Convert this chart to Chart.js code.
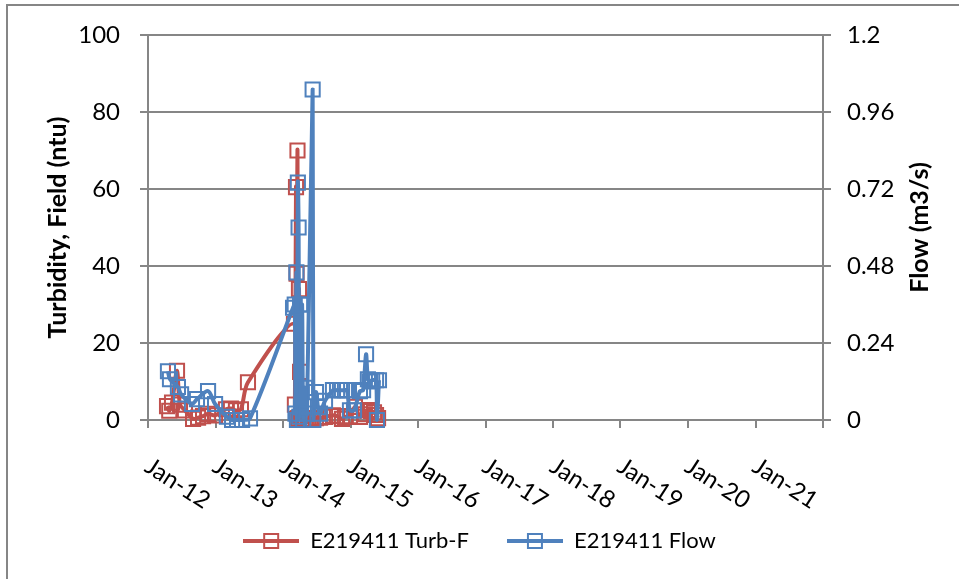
<!DOCTYPE html>
<html>
<head>
<meta charset="utf-8">
<script src="https://cdn.jsdelivr.net/npm/chart.js@4/dist/chart.umd.min.js"></script>
<style>
  html, body { margin: 0; padding: 0; background: #fff; }
  #contenedor { position: relative; width: 959px; height: 579px; }
</style>
</head>
<body>
<div id="contenedor"><canvas id="grafica" width="959" height="579"></canvas></div>
<script>
// Turbidez de campo (ntu) - eje izquierdo
const fechasTurb = [
    '2012-04-13', '2012-04-25', '2012-05-10', '2012-06-06', '2012-06-22', '2012-07-19',
    '2012-09-01', '2012-09-28', '2012-10-25', '2012-11-21', '2012-12-29', '2013-02-26',
    '2013-03-25', '2013-04-21', '2013-05-18', '2013-06-25', '2014-03-01', '2014-03-06',
    '2014-03-12', '2014-03-15', '2014-03-20', '2014-03-24', '2014-03-28', '2014-04-03',
    '2014-04-08', '2014-04-13', '2014-04-30', '2014-05-16', '2014-05-27', '2014-06-12',
    '2014-06-28', '2014-07-20', '2014-08-16', '2014-09-28', '2014-10-20', '2014-11-16',
    '2014-12-02', '2014-12-29', '2015-01-25', '2015-02-21', '2015-03-20', '2015-04-05',
    '2015-04-22', '2015-05-08', '2015-05-19', '2015-05-30'
];
const valoresTurb = [
    3.6, 2.4, 4.5, 12.8, 4.0, 2.5,
    0.3, 0.6, 1.0, 1.6, 1.2, 2.8,
    3.0, 2.5, 2.8, 9.8, 25, 4,
    60.5, 38, 70, 0.5, 34, 12.5,
    1.0, 0.3, 0.2, 0.1, 0.3, 0.2,
    0.5, 0.6, 0.8, 1.2, 1.0, 0.3,
    0.8, 1.0, 3.4, 0.8, 1.5, 2.6,
    2.3, 2.0, 1.3, 0.5
];

// Caudal (m3/s) - eje derecho
const fechasFlujo = [
    '2012-04-18', '2012-04-29', '2012-06-11', '2012-06-28', '2012-08-26', '2012-09-22',
    '2012-11-21', '2012-12-29', '2013-03-03', '2013-03-31', '2013-04-27', '2013-05-24',
    '2013-07-06', '2014-02-24', '2014-03-05', '2014-03-09', '2014-03-14', '2014-03-17',
    '2014-03-22', '2014-03-26', '2014-03-30', '2014-04-03', '2014-04-08', '2014-04-14',
    '2014-04-20', '2014-04-30', '2014-05-10', '2014-06-10', '2014-06-14', '2014-06-28',
    '2014-07-09', '2014-07-20', '2014-08-16', '2014-09-28', '2014-10-20', '2014-11-05',
    '2014-11-16', '2014-12-02', '2014-12-13', '2014-12-29', '2015-01-20', '2015-02-21',
    '2015-03-10', '2015-03-26', '2015-04-05', '2015-04-16', '2015-04-28', '2015-05-19',
    '2015-05-24', '2015-06-04'
];
const valoresFlujo = [
    0.152, 0.127, 0.103, 0.08, 0.05, 0.065,
    0.09, 0.05, 0.01, 0.0, 0.0, 0.0,
    0.005, 0.35, 0.36, 0.02, 0.46, 0.0,
    0.74, 0.6, 0.01, 0.36, 0.04, 0.36,
    0.0, 0.1, 0.02, 1.03, 0.0, 0.087,
    0.04, 0.02, 0.06, 0.093, 0.093, 0.093,
    0.093, 0.093, 0.093, 0.03, 0.03, 0.09,
    0.093, 0.205, 0.127, 0.12, 0.124, 0.124,
    0.0, 0.124
];

const aniosTicks = [2012, 2013, 2014, 2015, 2016, 2017, 2018, 2019, 2020, 2021, 2022];
const etiquetasX = ['Jan-12', 'Jan-13', 'Jan-14', 'Jan-15', 'Jan-16', 'Jan-17', 'Jan-18', 'Jan-19', 'Jan-20', 'Jan-21'];
const ticksFlujo = [0, 0.24, 0.48, 0.72, 0.96, 1.2];

const ROJO = '#C0504D';
const AZUL = '#4F81BD';
const GRIS = '#868686';
const FUENTE = 'Lato';

// Icono de leyenda: linea con cuadro en medio
function iconoLeyenda(color) {
    const c = document.createElement('canvas');
    c.width = 56;
    c.height = 18;
    const g = c.getContext('2d');
    g.strokeStyle = color;
    g.lineWidth = 4;
    g.beginPath();
    g.moveTo(0, 9);
    g.lineTo(56, 9);
    g.stroke();
    g.lineWidth = 2;
    g.strokeRect(21, 2, 14, 14);
    return c;
}
const iconos = [iconoLeyenda(ROJO), iconoLeyenda(AZUL)];

const aPuntos = (fechas, valores) => fechas.map((f, i) => ({ x: Date.parse(f), y: valores[i] }));

// Fondo y marco de la grafica
const marco = {
    id: 'marco',
    beforeDraw(chart) {
        const { ctx } = chart;
        ctx.save();
        ctx.fillStyle = '#fff';
        ctx.fillRect(0, 0, chart.width, chart.height);
        ctx.strokeStyle = GRIS;
        ctx.lineWidth = 2;
        ctx.strokeRect(7, 5, chart.width + 10, chart.height + 10);
        ctx.restore();
    }
};

// Etiquetas del eje X giradas y titulo del eje derecho
const textosExtra = {
    id: 'textosExtra',
    afterDraw(chart) {
        const { ctx, scales: { x } } = chart;
        const area = chart.chartArea;
        ctx.save();
        ctx.fillStyle = '#000';
        ctx.font = `24px ${FUENTE}`;
        ctx.textAlign = 'left';
        ctx.textBaseline = 'top';
        etiquetasX.forEach((txt, i) => {
            const px = x.getPixelForValue(Date.UTC(aniosTicks[i], 0, 1));
            ctx.save();
            ctx.translate(px + 6, area.bottom + 34);
            ctx.rotate(33 * Math.PI / 180);
            ctx.fillText(txt, 0, 0);
            ctx.restore();
        });
        ctx.font = `bold 25px ${FUENTE}`;
        ctx.textAlign = 'center';
        ctx.textBaseline = 'middle';
        ctx.translate(area.right + 97, (area.top + area.bottom) / 2);
        ctx.rotate(-Math.PI / 2);
        ctx.fillText('Flow (m3/s)', 0, 0);
        ctx.restore();
    }
};

const ctx = document.getElementById('grafica').getContext('2d');
new Chart(ctx, {
    type: 'scatter',
    data: {
        datasets: [{
            label: 'E219411 Turb-F',
            data: aPuntos(fechasTurb, valoresTurb),
            yAxisID: 'y',
            showLine: true,
            tension: 0.3,
            borderColor: ROJO,
            borderWidth: 4,
            pointStyle: 'rect',
            pointRadius: 10,
            pointBorderWidth: 2,
            pointBorderColor: ROJO,
            pointBackgroundColor: 'rgba(0,0,0,0)',
            clip: false,
            order: 1
        }, {
            label: 'E219411 Flow',
            data: aPuntos(fechasFlujo, valoresFlujo),
            yAxisID: 'y1',
            showLine: true,
            tension: 0.3,
            borderColor: AZUL,
            borderWidth: 4,
            pointStyle: 'rect',
            pointRadius: 10,
            pointBorderWidth: 2,
            pointBorderColor: AZUL,
            pointBackgroundColor: 'rgba(0,0,0,0)',
            clip: false,
            order: 0
        }]
    },
    options: {
        responsive: false,
        animation: false,
        devicePixelRatio: 1,
        layout: { padding: { top: 35, left: 0, right: 0, bottom: 17 } },
        scales: {
            x: {
                type: 'linear',
                min: Date.UTC(2012, 0, 1),
                max: Date.UTC(2022, 0, 1),
                afterBuildTicks: scale => {
                    scale.ticks = aniosTicks.map(a => ({ value: Date.UTC(a, 0, 1) }));
                },
                afterFit: scale => { scale.height = 72; },
                ticks: { display: false },
                grid: { drawOnChartArea: false, drawTicks: true, tickLength: 8, color: GRIS, lineWidth: 2 },
                border: { color: GRIS, width: 2 }
            },
            y: {
                position: 'left',
                min: 0,
                max: 100,
                ticks: { stepSize: 20, color: '#000', font: { family: FUENTE, size: 24 }, padding: 20 },
                grid: { color: GRIS, lineWidth: 2, tickLength: 8 },
                border: { color: GRIS, width: 2 },
                title: {
                    display: true,
                    text: 'Turbidity, Field (ntu)',
                    color: '#000',
                    font: { family: FUENTE, size: 25, weight: 'bold' },
                    padding: { top: 43, bottom: 0 }
                },
                afterFit: scale => { scale.width = 148; }
            },
            y1: {
                position: 'right',
                min: 0,
                max: 1.2,
                afterBuildTicks: scale => {
                    scale.ticks = ticksFlujo.map(v => ({ value: v }));
                },
                ticks: {
                    color: '#000',
                    font: { family: FUENTE, size: 24 },
                    padding: 16,
                    callback: v => String(Number(v.toFixed(2)))
                },
                grid: { drawOnChartArea: false, color: GRIS, lineWidth: 2, tickLength: 8 },
                border: { color: GRIS, width: 2 },
                afterFit: scale => { scale.width = 136; }
            }
        },
        plugins: {
            legend: {
                position: 'bottom',
                labels: {
                    usePointStyle: true,
                    pointStyleWidth: 56,
                    padding: 38,
                    color: '#000',
                    font: { family: FUENTE, size: 22 },
                    sort: (a, b) => a.datasetIndex - b.datasetIndex,
                    generateLabels: chart => Chart.defaults.plugins.legend.labels.generateLabels(chart)
                        .map(item => ({ ...item, pointStyle: iconos[item.datasetIndex] }))
                }
            },
            tooltip: { enabled: false }
        }
    },
    plugins: [marco, textosExtra]
});
</script>
</body>
</html>
